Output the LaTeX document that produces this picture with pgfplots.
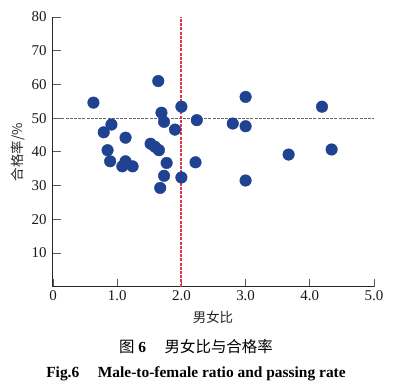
\documentclass[border=0pt]{standalone}
\usepackage{pgfplots}
\pgfplotsset{compat=1.18}
\usepackage{fontspec}
\setmainfont{Liberation Serif}
\newfontfamily\cjk{Noto Sans CJK SC}
\definecolor{dotblue}{RGB}{31,66,145}
\definecolor{reddash}{RGB}{228,50,72}
\pgfplotstableread{
x y
0.63 54.6
1.64 61.0
2.00 53.4
1.69 51.6
1.73 48.9
1.90 46.6
0.79 45.8
0.91 48.1
1.13 44.2
0.85 40.5
0.89 37.2
1.52 42.4
1.59 41.5
1.65 40.5
1.13 37.2
1.08 35.7
1.24 35.7
1.77 36.7
1.73 32.9
2.00 32.4
1.67 29.3
2.24 49.4
2.22 36.9
3.00 56.3
2.80 48.4
3.00 47.6
4.19 53.4
3.67 39.2
4.34 40.7
3.00 31.5
}\datatable
\pgfplotstableread{
x y
0 50
5 50
}\hline
\pgfplotstableread{
x y
2 0
2 80
}\vline
\begin{document}
\begin{tikzpicture}[x=1bp,y=1bp]
\useasboundingbox (-53,-98.3) rectangle (347,286.7);
\begin{axis}[
  at={(0,0)}, anchor=south west,
  scale only axis, width=321bp, height=269.7bp,
  xmin=0, xmax=5, ymin=0, ymax=80,
  axis lines=left,
  axis line style={-, line width=1bp, black!85},
  tick align=inside, major tick length=8bp,
  tick style={gray!70!black, line width=0.8bp},
  xtick={0,1,2,3,4,5}, xticklabels={0,1.0,2.0,3.0,4.0,5.0},
  ytick={10,20,30,40,50,60,70,80}, yticklabels={10,20,30,40,50,60,70,80},
  ticklabel style={font=\fontsize{15}{15}\selectfont, text=black!90},
  yticklabel style={xshift=-3bp},
  clip=false,
]
\addplot[no marks, color=gray!80!black, line width=1.2bp, dash pattern=on 3bp off 1.2bp] table[x=x,y=y] {\hline};
\addplot[no marks, color=reddash, line width=2bp, dash pattern=on 3bp off 1.2bp] table[x=x,y=y] {\vline};
\addplot[only marks, mark=*, mark size=5.8bp, mark options={fill=dotblue, draw=dotblue}] table[x=x,y=y] {\datatable};
\end{axis}
\node[font=\cjk\fontsize{13.5}{13.5}\selectfont, text=black!85] at (160,-30.3) {男女比};
\node[font=\cjk\fontsize{13.5}{13.5}\selectfont, text=black!85, rotate=90] at (-35,134.7) {合格率/\%};
\node[font=\fontsize{15.5}{15.5}\selectfont] at (143,-60.3) {{\cjk 图} \textbf{6}\hspace{1.2em}{\cjk 男女比与合格率}};
\node[font=\bfseries\fontsize{15.5}{15.5}\selectfont] at (143,-87.3) {Fig.6\hspace{1.2em}Male-to-female ratio and passing rate};
\end{tikzpicture}
\end{document}
